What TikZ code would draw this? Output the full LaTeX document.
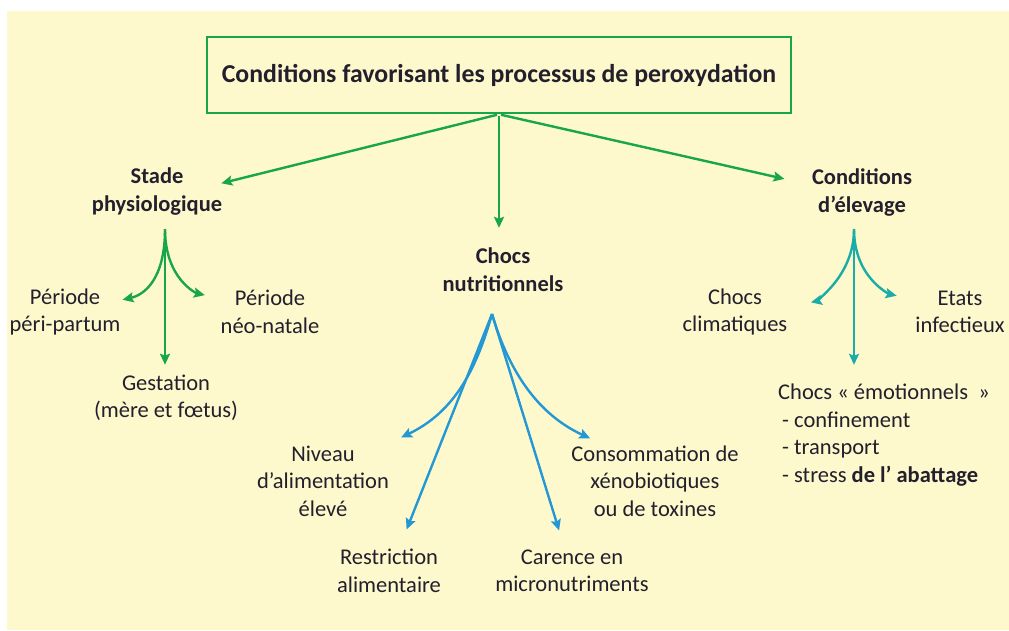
\documentclass[tikz,border=0pt]{standalone}
\usepackage{fontspec}
\setmainfont{Carlito}
\usetikzlibrary{arrows.meta, calc, positioning}
\definecolor{bgyellow}{RGB}{253,249,204}
\definecolor{boxgreen}{RGB}{24,166,76}
\definecolor{elevteal}{RGB}{26,172,166}
\definecolor{nutriblue}{RGB}{36,152,212}
\definecolor{inktext}{RGB}{35,31,45}
\tikzset{
  lbl/.style={text=inktext, align=center, inner sep=2pt, font=\fontsize{22.5}{27.5}\selectfont},
  headlbl/.style={lbl, font=\bfseries\fontsize{22.5}{28}\selectfont},
  arr/.style={line width=2.4pt, -{Stealth[length=11pt,width=10pt,inset=2pt]}},
}

\begin{document}
\begin{tikzpicture}[x=1pt, y=-1pt]
        \fill[white] (0,0) rectangle (1009,630);
        \fill[bgyellow] (7,11) rectangle (1009,630);
        \useasboundingbox (0,0) rectangle (1009,630);

        \node[draw=boxgreen, line width=2.6pt, minimum width=584pt, minimum height=76pt, text=inktext,
              font=\bfseries\fontsize{25.8}{30}\selectfont] (title) at (499,75)
              {Conditions favorisant les processus de peroxydation};

        \node[headlbl] (stade) at (157,192) {Stade\\physiologique};
        \node[headlbl] (chocs) at (503,270) {Chocs\\nutritionnels};
        \node[headlbl] (elev) at (862,192) {Conditions\\d’élevage};

        \draw[arr, boxgreen, shorten <=2pt, shorten >=-3pt] (title.south) -- (stade.8);
        \draw[arr, boxgreen, shorten <=2pt, shorten >=18pt] (title.south) -- (title.south |- chocs.north);
        \draw[arr, boxgreen, shorten <=2pt, shorten >=26pt] (title.south) -- (elev.172);

        % stade physiologique
        \node[lbl] (peri) at (65,312) {Période\\péri-partum};
        \node[lbl] (neo) at (270,312) {Période\\néo-natale};
        \node[lbl] (gest) at (166,398) {Gestation\\(mère et fœtus)};
        \coordinate (stadefork) at (165,229);
        \draw[arr, boxgreen, shorten >=8pt] (stadefork) -- (stadefork |- gest.north);
        \draw[arr, boxgreen] (stadefork) .. controls +(0,50) and +(22,-5) .. (peri.12);
        \draw[arr, boxgreen, shorten >=14pt] (stadefork) .. controls +(0,50) and +(-22,-5) .. (neo.165);

        % conditions d'elevage
        \node[lbl] (climat) at (735,312) {Chocs\\climatiques};
        \node[lbl] (etats) at (960,312) {Etats\\infectieux};
        \node[lbl, align=left, anchor=west] (emot) at (776,435)
              {Chocs « émotionnels \ »\\\hspace*{4pt}- confinement\\\hspace*{4pt}- transport\\\hspace*{4pt}- stress \textbf{de l’ abattage}};
        \coordinate (elevfork) at (854,229);
        \draw[arr, elevteal, shorten >=17pt] (elevfork) -- (elevfork |- emot.north);
        \draw[arr, elevteal, shorten >=22pt] (elevfork) .. controls +(0,50) and +(22,-5) .. (climat.5);
        \draw[arr, elevteal, shorten >=17pt] (elevfork) .. controls +(0,50) and +(-22,-5) .. (etats.165);

        % chocs nutritionnels
        \node[lbl] (niveau) at (323,481) {Niveau\\d’alimentation\\élevé};
        \node[lbl] (restr) at (389,571) {Restriction\\alimentaire};
        \node[lbl] (carence) at (572,571) {Carence en\\micronutriments};
        \node[lbl] (conso) at (655,481) {Consommation de\\xénobiotiques\\ou de toxines};
        \coordinate (nutrifork) at (492,314);
        \draw[arr, nutriblue] (nutrifork) .. controls +(-17,61) and +(50,-24) .. ($(niveau.north east)+(10,-6)$);
        \draw[arr, nutriblue, shorten >=19pt] (nutrifork) -- (restr.66);
        \draw[arr, nutriblue, shorten >=18pt] (nutrifork) -- (carence.108);
        \draw[arr, nutriblue] (nutrifork) .. controls +(18,61) and +(-50,-23) .. ($(conso.north west)+(21,-5)$);

    \end{tikzpicture}
\end{document}
